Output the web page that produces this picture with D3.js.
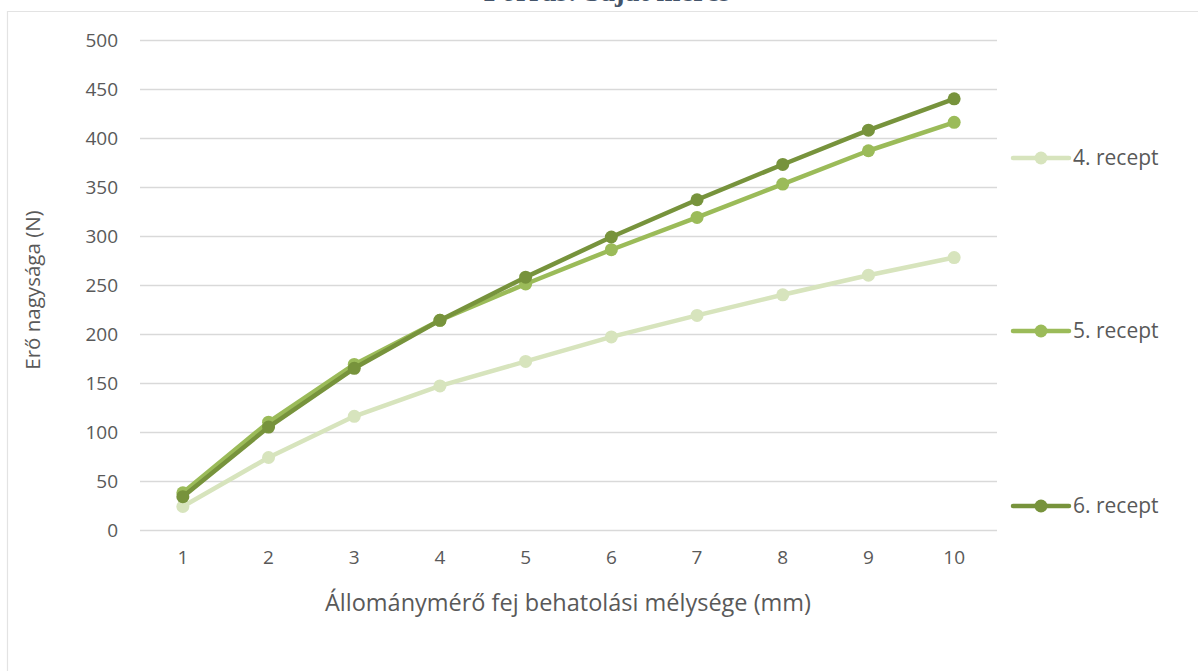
<!DOCTYPE html>
<html>
<head>
<meta charset="utf-8">
<script src="https://cdn.jsdelivr.net/npm/d3@7"></script>
<style>
  html, body { margin: 0; padding: 0; background: #fff; }
  svg { display: block; }
</style>
</head>
<body>
<svg id="chart" width="1198" height="671"></svg>
<script>
// Penetration depth (mm) of the texture analyser probe
const depths = [1, 2, 3, 4, 5, 6, 7, 8, 9, 10];
// Measured force (N) for each recipe
const recept4 = [24, 74, 116, 147, 172, 197, 219, 240, 260, 278];
const recept5 = [38, 110, 169, 214, 251, 286, 319, 353, 387, 416];
const recept6 = [34, 105, 165, 214, 258, 299, 337, 373, 408, 440];
const seriesNames = ["4. recept", "5. recept", "6. recept"];
const seriesColors = ["#D7E4BD", "#9BBB59", "#77933C"];
const yTicks = [0, 50, 100, 150, 200, 250, 300, 350, 400, 450, 500];

const series = [recept4, recept5, recept6].map((vals, i) => ({
  name: seriesNames[i], color: seriesColors[i],
  points: vals.map((v, j) => ({ x: depths[j], y: v }))
}));

const FONT = "'Open Sans', 'Noto Sans', sans-serif";
const TEXT = "#595959";

const svg = d3.select("#chart");
const plot = { left: 140, right: 997, top: 40, bottom: 530 };

const x = d3.scaleBand().domain(depths).range([plot.left, plot.right]);
const xc = d => x(d) + x.bandwidth() / 2;
const y = d3.scaleLinear().domain([0, 500]).range([plot.bottom, plot.top]);

// Source caption, partly above the top of the page
svg.append("text")
  .attr("x", 607).attr("y", 1)
  .attr("text-anchor", "middle")
  .attr("font-family", "Liberation Serif, serif")
  .attr("font-weight", "bold")
  .attr("font-size", 29)
  .attr("fill", "#44546A")
  .text("Forrás: Saját mérés");

// Chart frame (top and left edges)
svg.append("line").attr("x1", 7).attr("x2", 1198).attr("y1", 11.5).attr("y2", 11.5)
  .attr("stroke", "#E3E3E3").attr("stroke-width", 1.2);
svg.append("line").attr("x1", 7.5).attr("x2", 7.5).attr("y1", 11).attr("y2", 671)
  .attr("stroke", "#E3E3E3").attr("stroke-width", 1.2);

// Horizontal gridlines and y tick labels
const yAxis = d3.axisLeft(y).tickValues(yTicks)
  .tickSize(-(plot.right - plot.left)).tickPadding(22);
const gy = svg.append("g").attr("transform", `translate(${plot.left},0)`).call(yAxis);
gy.select(".domain").remove();
gy.selectAll(".tick line").attr("stroke", "#D9D9D9").attr("stroke-width", 1.5);
gy.selectAll(".tick text")
  .attr("font-family", FONT).attr("font-size", 19).attr("fill", TEXT);

// x tick labels
const xAxis = d3.axisBottom(x).tickSize(0).tickPadding(21);
const gx = svg.append("g").attr("transform", `translate(0,${plot.bottom})`).call(xAxis);
gx.select(".domain").remove();
gx.selectAll(".tick text")
  .attr("font-family", FONT).attr("font-size", 19).attr("fill", TEXT);

// Axis titles
svg.append("text")
  .attr("x", 568).attr("y", 611)
  .attr("text-anchor", "middle")
  .attr("font-family", FONT).attr("font-size", 23.5).attr("fill", TEXT)
  .text("Állománymérő fej behatolási mélysége (mm)");

svg.append("text")
  .attr("transform", "translate(40,290) rotate(-90)")
  .attr("text-anchor", "middle")
  .attr("font-family", FONT).attr("font-size", 20.5).attr("fill", TEXT)
  .text("Erő nagysága (N)");

// Series lines and markers
const line = d3.line().x(d => xc(d.x)).y(d => y(d.y));
const gs = svg.append("g").selectAll("g").data(series).join("g");
gs.append("path")
  .attr("d", d => line(d.points))
  .attr("fill", "none")
  .attr("stroke", d => d.color)
  .attr("stroke-width", 4.5)
  .attr("stroke-linejoin", "round");
gs.each(function (s) {
  d3.select(this).selectAll("circle").data(s.points).join("circle")
    .attr("cx", d => xc(d.x)).attr("cy", d => y(d.y))
    .attr("r", 6.5).attr("fill", s.color);
});

// Legend
const legendY = [158, 331, 506];
const lg = svg.append("g").selectAll("g").data(series).join("g")
  .attr("transform", (d, i) => `translate(1013,${legendY[i]})`);
lg.append("line").attr("x1", 0).attr("x2", 56).attr("y1", 0).attr("y2", 0)
  .attr("stroke", d => d.color).attr("stroke-width", 4.5).attr("stroke-linecap", "round");
lg.append("circle").attr("cx", 28).attr("cy", 0).attr("r", 6.5).attr("fill", d => d.color);
lg.append("text").attr("x", 60).attr("y", 0).attr("dy", "0.35em")
  .attr("font-family", FONT).attr("font-size", 21).attr("fill", TEXT)
  .text(d => d.name);
</script>
</body>
</html>
